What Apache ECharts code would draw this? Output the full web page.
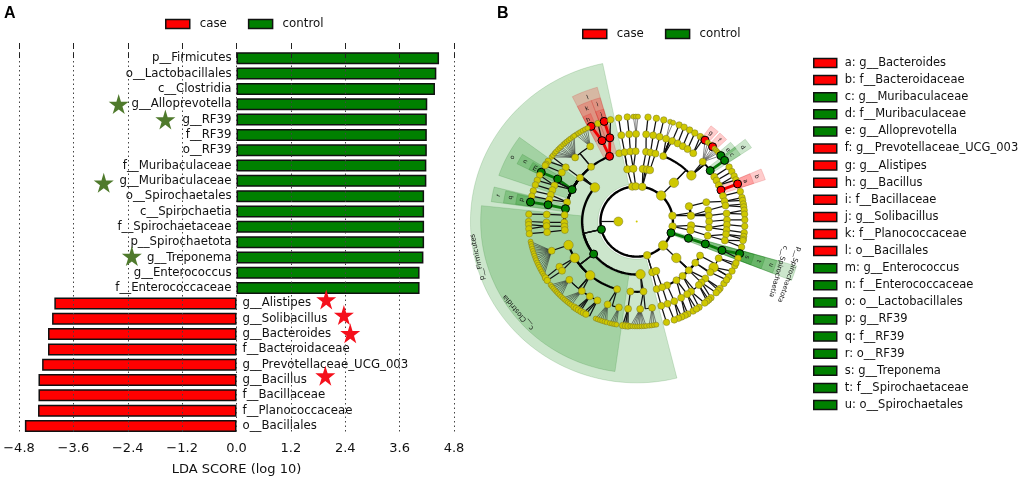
<!DOCTYPE html>
<html><head><meta charset="utf-8">
<style>html,body{margin:0;padding:0;background:#fff}#c{width:1021px;height:481px}</style>
<script src="https://cdn.jsdelivr.net/npm/echarts@6/dist/echarts.min.js"></script>
</head><body><div id="c"></div>
<script>
// ---- Panel A data ----
const categories = ['p__Firmicutes','o__Lactobacillales','c__Clostridia','g__Alloprevotella','g__RF39','f__RF39','o__RF39','f__Muribaculaceae','g__Muribaculaceae','o__Spirochaetales','c__Spirochaetia','f__Spirochaetaceae','p__Spirochaetota','g__Treponema','g__Enterococcus','f__Enterococcaceae','g__Alistipes','g__Solibacillus','g__Bacteroides','f__Bacteroidaceae','g__Prevotellaceae_UCG_003','g__Bacillus','f__Bacillaceae','f__Planococcaceae','o__Bacillales'];
const controlValues = [4.47,4.41,4.38,4.21,4.20,4.20,4.20,4.19,4.19,4.14,4.14,4.14,4.14,4.125,4.04,4.04];
const caseValues = [-4.02,-4.07,-4.16,-4.16,-4.29,-4.37,-4.37,-4.38,-4.67];
const greenStars = [[-2.6,3.05],[-1.57,4.07],[-2.93,8.27],[-2.31,13.12]];
const redStars = [[1.98,16],[2.37,17.03],[2.51,18.24],[1.96,21.05]];

// ---- Panel B legend ----
const keyNames = ['a: g__Bacteroides','b: f__Bacteroidaceae','c: g__Muribaculaceae','d: f__Muribaculaceae','e: g__Alloprevotella','f: g__Prevotellaceae_UCG_003','g: g__Alistipes','h: g__Bacillus','i: f__Bacillaceae','j: g__Solibacillus','k: f__Planococcaceae','l: o__Bacillales','m: g__Enterococcus','n: f__Enterococcaceae','o: o__Lactobacillales','p: g__RF39','q: f__RF39','r: o__RF39','s: g__Treponema','t: f__Spirochaetaceae','u: o__Spirochaetales'];
const keyGroups = 'rrgggrrrrrrrggggggggg';

// ---- Panel B cladogram: each node is angle (deg), then tags, then children ----
// tags: g/r highlighted class, B big node, f fan of leaves
const topClades = [
 [97,[99.8,104,[99.6,[99.8,99.6]]]],
 [91.6,[93.6,[95,[94.8,95]],[90.8,[90.4,'f',91.8,90.5,89.3]]]],
 [81,[83.5,[82.6,[84,84]]],[79,[79,[79.5,79.5]]],[76,[75,[75.3,75.5]]]]
];
const bacteroidota = [
 [47.6,'B',[47,'B',
  [68.5,[71,'f',72,70.3],[66.8,66.9],[63,64],[59.3,60.7],[55.7,57.5],[51.2,54,52]],
  [41,'B',[43,'f',[50.8,'r'],49,47.5,[45.4,'r'],44,43,42,41,[38.9,'g']],[35.5,'g',[35.6,'g']],[30.8,31.3],[27.9,28.4],[24.5,25.7,23.4],[21,'r',[21,'r']],[17,16.6]]
 ]]
];
const rightClades = [
 [9.5,[16.6,[16,[13.3,13.2,11.6]]],[6.3,[9.2,[10.5,9.6,8]],[4.7,[5.3,6.2,4]],[0,[1,0.9]]]],
 [-8,[-4.2,[-5,[-2.1,-2.6],[-5.6,-6.1]]],[-9.6,[-11.7,[-8.4,-8.2,-9.8],[-12.5,-10.5,-14.1]]]],
 [-18.8,'g',[-18.5,'g',[-18.6,'g',[-19.2,'g',[-17.8,'g'],-20.5]]]]
];
const lowerRight = [
 [-43,'B',[-43.5,'B',
  [-29,[-24.8,-24.9,-23.3]],[-36,[-31.6,'B',-31.7,-28.2,-36.2],[-35.4,-33.8]],[-44,[-40.5,-39.6,-41],[-44.2,-42.7,-46.6]],
  [-50.7,[-46.5,-48.2,-49.5],[-53,-51,-54.8]],[-56.7,[-56,-58.6,-56.5],[-60.5,-61.8,-63.4]],[-65.2,[-65.4,-65.4,-67.3]]
 ]],
 [-73.3,[-73.3,[-74,[-74.2,-74]]],[-69.2,[-69.4,[-70,-69.7]]]]
];
const firmicutes = [
 [193,'g','B',
  [140,'B',
   [112,'r',[112.6,'r',[114.9,'r'],111],[107.3,'r',[107.5,'r'],104]],
   [129,[121,'f',124.2,122.8,121.5,120,118.6,117.1],[133,'f',142,140.8,139.3,138.2,136.7,135.5,134.3,132.8,131.6,130.4,129.1,127.8,126.3,125.3]],
   [141.5,[141.8,145,147]],
   [153,'g',[151,'g',[152,'g']],[146,147.8],[155.7,153.8,156.9],[159,159.6]],
   [164,[162.3,163],[165.6,166]],
   [169.5,'g',[169,'g',[169.3,'g']]],
   [174.7,[175.4,176]],[180.8,[180.6,180]],[184,[183,181.7,184]],[187,[187,186.7]]
  ],
  [217.9,'g','B',
   [199.6,'B',[199.5,'f',191,192.3,193.6,195,196.3,197.7,199,200.4,201.6,203,204.3,205.6,207,208.4,209.7,211]],
   [211.2,'B',[211.1,212.5],[214.2,214.2]],
   [230,'B',[221.7,'f',217.2,218.4,219.6,220.9,222.1,223.2,224.4,225.7],[232.6,'f',226.9,228.1,229.3,230.4,231.6,232.8],[238.7,234.6,236,237.4],[244.2,239,240.5,242]],
   [254.3,[251.2,'f',247.7,248.9,250.2,251.4,252.7,253.9],[258.6,'f',255.6,256.8,258,259.2]]
  ],
  [274,'B',
   [265,[264.5,262.5,264,265.4]],
   [275.4,[272.2,'f',266.6,267.8,269,270.2,271.4,272.6,273.8,275],[279.8,'f',276.6,277.9,279.2,280.5]]
  ]
 ]
];
const cladeGroups = [topClades,bacteroidota,rightClades,lowerRight,firmicutes];
const levelRadii = [35.5,53.5,71,88.5,106];
const extraNode = [180,18];

// ---- Panel B shaded sectors: from angle, to angle, inner r, outer r, group ----
const sectorRows = [
 [101.8,284,38,163,'g'],[174,262,55,153,'g'],
 [143.5,161,73,143,'g'],[148.8,153.6,90,131,'g'],[149.6,153.6,107,118,'g'],
 [166,172,73,144,'g'],[166.4,171.8,90,132,'g'],[166.8,171.6,107,120,'g'],
 [105.9,116.6,72,141,'r'],[110,116.6,90,130,'r'],[106,110,90,130,'r'],[105.9,110,107,118,'r'],[112.5,116.6,107,118,'r'],
 [18.5,23.5,90,133,'r'],[18.5,23.5,107,121,'r'],
 [48.6,53,107,121,'r'],[43.2,47.6,107,121,'r'],
 [33.5,38,90,135,'g'],[33.5,38,107,122,'g'],[37,41,107,122,'g'],
 [-21.4,-16,38,163,'g'],[-21.4,-16,53.5,147,'g'],[-21.4,-16,72,143,'g'],[-21.4,-16,90,131,'g'],[-21.4,-16,107,120,'g']
];
const sectorLetters = [['a',21,114],['b',21,126],['c',35.8,115],['d',35.8,128],['e',39,115],['f',45.4,115],['g',50.8,115],['h',114.8,113],['i',108,124],['j',107.8,113],['k',113.2,124],['l',111,134],['m',151.6,113],['n',151,125],['o',152,138],['p',169,115],['q',169,126],['r',169,138],['s',-18.5,114],['t',-18.5,126],['u',-18.5,139]];
const cladeLabels = [['p__Firmicutes',193,160,102.6,7],['c__Clostridia',218.3,148,130,7],['c__Spirochaetia',-20,147.7,-106,6.8],['p__Spirochaetota',-19.8,159.2,-110,6.8]];

// ---- walk the tree into nodes and edges ----
const treeNodes=[],treeEdges=[];
function walk(n,depth,fanLeaf){
  const arr=Array.isArray(n)?n:[n];
  const me={a:arr[0],r:levelRadii[depth-1],depth,fanLeaf,color:null,big:false,fan:false};
  const kids=[];
  arr.slice(1).forEach(x=>{
    if(x==='g'||x==='r')me.color=x;else if(x==='B')me.big=true;else if(x==='f')me.fan=true;else kids.push(x);
  });
  treeNodes.push(me);
  kids.forEach(k=>{
    const c=walk(k,depth+1,me.fan);
    const d=Math.abs(c.a-me.a);
    if(me.color&&c.color&&d<10)treeEdges.push({p:[[me.r,me.a],[c.r,c.a]],w:2.8,col:c.color==='g'?'#0a7a0a':'#f00000',top:1});
    else if(me.fan)treeEdges.push({p:[[me.r,me.a],[c.r,c.a]],w:.55,col:'#222'});
    else if(d<4)treeEdges.push({p:[[me.r,me.a],[c.r,c.a]],w:1.25,col:'#111'});
    else{
      treeEdges.push({p:[[me.r,me.a],[c.r,me.a]],w:1.25,col:'#111'});
      treeEdges.push({arc:[c.r,me.a,c.a],w:[2.4,2.4,2.2,1.2,.8][depth]||1,col:'#000'});
    }
  });
  return me;
}
cladeGroups.forEach(g=>g.forEach(n=>walk(n,1,false)));
treeEdges.unshift({arc:[levelRadii[0],0,360],w:2.4,col:'#000'});
treeEdges.push({p:[[extraNode[1],extraNode[0]],[levelRadii[0],extraNode[0]]],w:1.25,col:'#111'});

const rad=d=>d*Math.PI/180;
const xy=(r,a)=>[r*Math.cos(rad(a)),r*Math.sin(rad(a))];
const RED='#ff0000',GREEN='#008000',YEL='#cfc800';
const F='"DejaVu Sans"';
const starPath='path://M50,0 L61,35 98,35 68,57 79,91 50,70 21,91 32,57 2,35 39,35 Z';

const chart=echarts.init(document.getElementById('c'),null,{renderer:'canvas'});
const ctr=[636.7,221.5],sx=1.02,sy=.99,R=172;
const nodeData=treeNodes.map(n=>{
  const colored=!!n.color;
  const size=colored?8:n.big?9.5:n.fanLeaf?5:[7.5,7.5,7,7,6.5][n.depth-1];
  return {value:xy(n.r,n.a),symbolSize:size,itemStyle:{opacity:1,color:colored?(n.color==='g'?GREEN:RED):YEL,borderColor:colored?'#000':'#77772a',borderWidth:colored?1:.5}};
});
nodeData.push({value:xy(extraNode[1],extraNode[0]),symbolSize:9,itemStyle:{opacity:1,color:YEL,borderColor:'#77772a',borderWidth:.5}});
nodeData.push({value:[0,0],symbolSize:2,itemStyle:{opacity:1,color:YEL,borderWidth:0}});

function sectorItem(params,api){
  const s=sectorRows[params.dataIndex],pts=[];
  const n=Math.max(2,Math.ceil((s[1]-s[0])/2));
  for(let i=0;i<=n;i++)pts.push(api.coord(xy(s[3],s[0]+(s[1]-s[0])*i/n)));
  for(let i=n;i>=0;i--)pts.push(api.coord(xy(s[2],s[0]+(s[1]-s[0])*i/n)));
  const g=s[4]==='g';
  return {type:'polygon',shape:{points:pts},style:{fill:g?'rgba(0,128,0,.2)':'rgba(255,0,0,.2)',stroke:g?'rgba(0,110,0,.15)':'rgba(200,0,0,.15)',lineWidth:1}};
}
function edgeItem(params,api){
  const e=treeEdges[params.dataIndex];
  let pts;
  if(e.arc){
    const [r,a0,a1]=e.arc,n=Math.max(2,Math.ceil(Math.abs(a1-a0)/2));pts=[];
    for(let i=0;i<=n;i++)pts.push(api.coord(xy(r,a0+(a1-a0)*i/n)));
  }else pts=e.p.map(q=>api.coord(xy(q[0],q[1])));
  return {type:'polyline',shape:{points:pts},style:{stroke:e.col,lineWidth:e.w,fill:null}};
}
function textItem(list,sizeDefault){
  return function(params,api){
    const t=list[params.dataIndex];
    const c=api.coord(xy(t[2],t[1]));
    const rot=t.length>3?t[3]:t[1]-90;
    return {type:'text',x:c[0],y:c[1],rotation:rad(rot),style:{text:t[0],fontSize:t[4]||sizeDefault,fontFamily:F,fill:'#111',align:'center',verticalAlign:'middle'}};
  };
}
const dummy=arr=>arr.map(()=>[0,0]);

const legendBase={icon:'rect',itemWidth:24,itemHeight:9,selectedMode:false,orient:'horizontal',
  itemStyle:{borderColor:'#111',borderWidth:1.5,opacity:1},textStyle:{fontFamily:F,fontSize:11.8,color:'#111',padding:[0,0,0,5]}};

chart.setOption({
  animation:false,
  backgroundColor:'#fff',
  title:[
    {text:'A',left:-1,top:1,textStyle:{fontFamily:'"Liberation Sans"',fontWeight:'bold',fontSize:16,color:'#000'}},
    {text:'B',left:492,top:1,textStyle:{fontFamily:'"Liberation Sans"',fontWeight:'bold',fontSize:16,color:'#000'}}
  ],
  legend:[
    Object.assign({},legendBase,{left:160,top:13,itemGap:21,data:['case','control']}),
    Object.assign({},legendBase,{left:577,top:23,itemGap:21,data:['case','control']}),
    Object.assign({},legendBase,{left:808,top:52,orient:'vertical',itemWidth:23,itemGap:5.1,data:keyNames,
      textStyle:{fontFamily:F,fontSize:11.5,color:'#111',padding:[0,0,0,3]}})
  ],
  grid:[
    {left:19,width:435,top:50.64,height:383},
    {left:19,width:435,top:43,height:396},
    {left:ctr[0]-R*sx,width:2*R*sx,top:ctr[1]-R*sy,height:2*R*sy}
  ],
  xAxis:[
    {gridIndex:0,type:'value',min:-4.8,max:4.8,interval:1.2,show:false},
    {gridIndex:1,type:'value',min:-4.8,max:4.8,interval:1.2,position:'bottom',z:5,
     axisLine:{show:false},axisTick:{show:true,inside:true,length:5,lineStyle:{color:'#222',width:1}},
     splitLine:{show:true,lineStyle:{type:[1.5,3],color:'#444',width:1}},
     axisLabel:{fontFamily:F,fontSize:13,color:'#111',margin:9.5,formatter:v=>v.toFixed(1).replace('-','\u2212')},
     name:'LDA SCORE (log 10)',nameLocation:'middle',nameGap:30,nameTextStyle:{fontFamily:F,fontSize:13,color:'#111'}},
    {gridIndex:1,type:'value',min:-4.8,max:4.8,interval:1.2,position:'top',z:5,
     axisLine:{show:false},axisLabel:{show:false},splitLine:{show:false},axisTick:{show:true,inside:true,length:6,lineStyle:{color:'#222',width:1}}},
    {gridIndex:2,type:'value',min:-R,max:R,show:false}
  ],
  yAxis:[
    {gridIndex:0,type:'category',data:categories,inverse:true,show:false},
    {gridIndex:1,type:'value',min:-0.9987,max:24.85,inverse:true,show:false},
    {gridIndex:2,type:'value',min:-R,max:R,show:false}
  ],
  series:[
    {name:'control',type:'bar',xAxisIndex:0,yAxisIndex:0,data:controlValues,barWidth:12,barGap:'-100%',z:2,
     itemStyle:{color:GREEN,borderColor:'#111',borderWidth:1.5},
     label:{show:true,position:'left',distance:5,fontFamily:F,fontSize:11.75,color:'#111',formatter:p=>categories[p.dataIndex]}},
    {name:'case',type:'bar',xAxisIndex:0,yAxisIndex:0,data:Array(16).fill(null).concat(caseValues),barWidth:12,z:2,
     itemStyle:{color:RED,borderColor:'#111',borderWidth:1.5},
     label:{show:true,position:'right',distance:6,fontFamily:F,fontSize:11.75,color:'#111',formatter:p=>categories[p.dataIndex]}},
    {name:'sig-control',type:'scatter',xAxisIndex:1,yAxisIndex:1,data:greenStars,symbol:starPath,symbolSize:20,z:6,itemStyle:{color:'#4f7a2c',opacity:1}},
    {name:'sig-case',type:'scatter',xAxisIndex:1,yAxisIndex:1,data:redStars,symbol:starPath,symbolSize:20,z:6,itemStyle:{color:'#f5101c',opacity:1}},
    {name:'sectors',type:'custom',xAxisIndex:3,yAxisIndex:2,coordinateSystem:'cartesian2d',data:dummy(sectorRows),renderItem:sectorItem,z:1,clip:false,silent:true},
    {name:'edges',type:'custom',xAxisIndex:3,yAxisIndex:2,coordinateSystem:'cartesian2d',data:dummy(treeEdges),renderItem:edgeItem,z:2,clip:false,silent:true},
    {name:'nodes',type:'scatter',xAxisIndex:3,yAxisIndex:2,data:nodeData,z:3,silent:true,clip:false},
    {name:'letters',type:'custom',xAxisIndex:3,yAxisIndex:2,coordinateSystem:'cartesian2d',data:dummy(sectorLetters),renderItem:textItem(sectorLetters,6),z:4,clip:false,silent:true},
    {name:'cladeLabels',type:'custom',xAxisIndex:3,yAxisIndex:2,coordinateSystem:'cartesian2d',data:dummy(cladeLabels),renderItem:textItem(cladeLabels,6.5),z:4,clip:false,silent:true}
  ].concat(keyNames.map((k,i)=>({name:k,type:'scatter',xAxisIndex:3,yAxisIndex:2,data:[],itemStyle:{color:keyGroups[i]==='r'?RED:GREEN,opacity:1}})))
});
</script></body></html>
